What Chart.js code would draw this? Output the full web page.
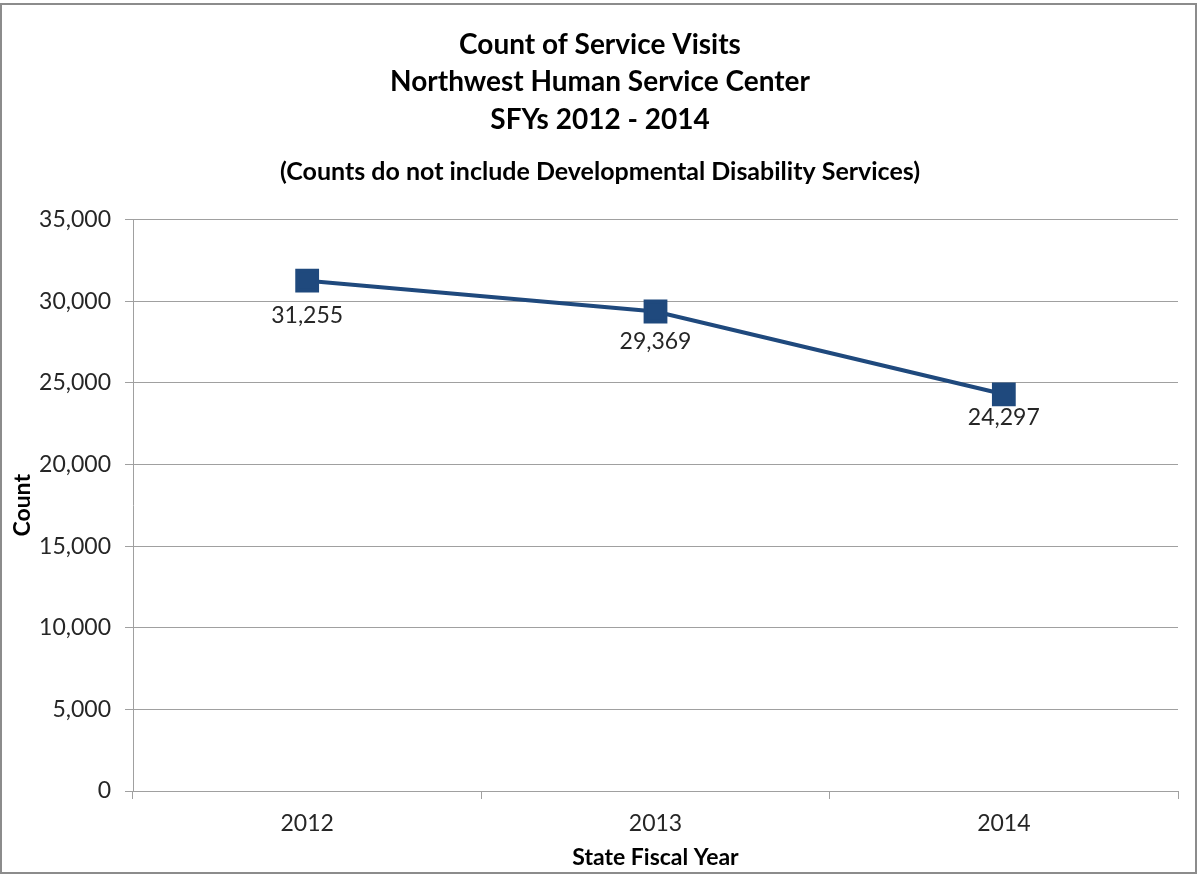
<!DOCTYPE html>
<html lang="en">
<head>
    <meta charset="UTF-8">
    <title>Count of Service Visits</title>
    <script src="https://cdn.jsdelivr.net/npm/chart.js"></script>
    <style>
        body { margin: 0; background: #fff; }
        #wrap { width: 1198px; height: 875px; }
    </style>
</head>
<body>
    <div id="wrap"><canvas id="myChart" width="1198" height="875"></canvas></div>
    <script>
        const years = ['2012', '2013', '2014']
        const visits = [31255, 29369, 24297]
        const titleLines = ['Count of Service Visits', 'Northwest Human Service Center', 'SFYs 2012 - 2014']
        const subTitle = '(Counts do not include Developmental Disability Services)'

        const FONT = 'Lato'

        // outer frame like the spreadsheet chart border
        const framePlugin = {
            id: 'frame',
            afterDraw(chart) {
                const c = chart.ctx
                c.save()
                c.strokeStyle = '#8c8c8c'
                c.lineWidth = 2
                c.strokeRect(1, 4, chart.width - 3, chart.height - 6)
                c.restore()
            }
        }

        // value labels under each point
        const labelPlugin = {
            id: 'pointLabels',
            afterDatasetsDraw(chart, args, opts) {
                const c = chart.ctx
                const meta = chart.getDatasetMeta(0)
                const offs = opts.offsets || []
                c.save()
                c.font = '23px ' + FONT
                c.fillStyle = '#262626'
                c.textAlign = 'center'
                c.textBaseline = 'middle'
                meta.data.forEach((pt, i) => {
                    c.fillText(visits[i].toLocaleString('en-US'), pt.x, pt.y + (offs[i] || 29))
                })
                c.restore()
            }
        }

        Chart.defaults.font.family = FONT

        new Chart(document.getElementById('myChart'), {
            type: 'line',
            data: {
                labels: years,
                datasets: [{
                    data: visits,
                    borderColor: '#1f497d',
                    backgroundColor: '#1f497d',
                    borderWidth: 4,
                    pointStyle: 'rect',
                    pointRadius: 14,
                    pointHoverRadius: 14,
                    tension: 0
                }]
            },
            options: {
                responsive: false,
                animation: false,
                // left/right balanced so the titles sit on the page centre
                layout: { padding: { top: 26, right: 20, left: 22, bottom: 0 } },
                plugins: {
                    legend: { display: false },
                    tooltip: { enabled: false },
                    pointLabels: { offsets: [35, 30, 23] },
                    title: {
                        display: true,
                        text: titleLines,
                        color: '#000',
                        font: { size: 28, weight: 'bold', lineHeight: 1.34 },
                        padding: { top: 0, bottom: 18 }
                    },
                    subtitle: {
                        display: true,
                        text: subTitle,
                        color: '#000',
                        font: { size: 25, weight: 'bold', lineHeight: 1.2 },
                        padding: { top: 0, bottom: 33 }
                    }
                },
                scales: {
                    x: {
                        offset: true,
                        afterFit(scale) { scale.height = 84 },
                        grid: {
                            offset: true,
                            drawOnChartArea: false,
                            color: '#a0a0a0',
                            tickLength: 8
                        },
                        border: { color: '#a0a0a0', width: 1 },
                        ticks: { color: '#262626', font: { size: 23 }, padding: 11 },
                        title: {
                            display: true,
                            text: 'State Fiscal Year',
                            color: '#000',
                            font: { size: 23, weight: 'bold', lineHeight: 1.2 },
                            padding: { top: 0, bottom: 4 }
                        }
                    },
                    y: {
                        min: 0,
                        max: 35000,
                        afterFit(scale) { scale.width = 111 },
                        grid: { color: '#a0a0a0', tickLength: 8 },
                        border: { color: '#a0a0a0', width: 1 },
                        ticks: {
                            stepSize: 5000,
                            color: '#262626',
                            font: { size: 23 },
                            padding: 14,
                            callback: v => v.toLocaleString('en-US')
                        },
                        title: {
                            display: true,
                            text: 'Count',
                            color: '#000',
                            font: { size: 23, weight: 'bold', lineHeight: 1.2 },
                            padding: { top: -13, bottom: 0 }
                        }
                    }
                }
            },
            plugins: [framePlugin, labelPlugin]
        })
    </script>
</body>
</html>
